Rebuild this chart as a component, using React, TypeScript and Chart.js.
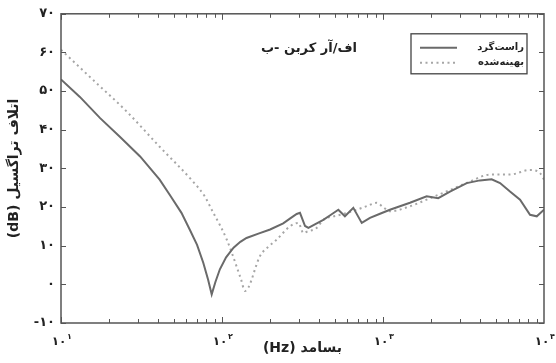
import React, { useEffect, useRef } from "react";
import { Chart, registerables } from "chart.js";

Chart.register(...registerables);

// ---- data ----
const solidFreq = [10, 13.1, 17.5, 23.2, 31, 41, 48, 56, 63, 70, 76.5, 82, 86.3, 91, 97, 106, 118, 130, 142, 170, 199, 240, 264, 291, 305, 328, 344, 380, 426, 475, 528, 580, 654, 738, 830, 950, 1104, 1471, 1867, 2203, 2606, 3311, 4000, 4730, 5333, 6150, 7100, 8190, 9020, 10000];
const solidLoss = [53, 48.5, 43, 38.2, 33.1, 27.1, 22.8, 18.5, 14.2, 10.2, 5.6, 1.2, -2.6, 0.6, 3.9, 7.0, 9.5, 11.0, 12.0, 13.2, 14.2, 15.8, 17.0, 18.2, 18.5, 15.1, 14.6, 15.6, 16.7, 18.0, 19.3, 17.6, 19.8, 15.9, 17.2, 18.2, 19.3, 21.1, 22.8, 22.3, 24.0, 26.2, 26.9, 27.2, 26.2, 24.0, 21.9, 18.0, 17.6, 19.3];
const optFreq = [10, 15.9, 25.6, 41, 66, 78, 88.3, 98, 107, 115, 123, 131, 139, 146, 153, 162, 172, 195, 219, 264, 298, 320, 336, 387, 426, 520, 600, 687, 800, 914, 1000, 1104, 1471, 1961, 2606, 3467, 4624, 6150, 8190, 9440, 10000];
const optLoss = [60.7, 52.8, 44.7, 35.6, 26.6, 22.8, 18.5, 15.0, 11.6, 8.2, 4.7, 1.4, -1.7, -0.8, 1.3, 4.5, 7.3, 9.8, 11.6, 15.0, 15.9, 13.3, 13.6, 14.6, 16.7, 17.8, 18.5, 19.3, 20.3, 21.1, 20.0, 18.9, 20.2, 22.3, 24.4, 26.6, 28.4, 28.4, 29.6, 28.8, 27.1];
const yTickValues = [-10, 0, 10, 20, 30, 40, 50, 60, 70];
const xDecades = [10, 100, 1000, 10000];
const xExponents = [1, 2, 3, 4];
const seriesNames = ["راست‌گرد", "بهینه‌شده"];
// title pieces in the left-to-right order seen in the reference ("ب- کربن آر/اف")
const titleTokens = ["ب-", " ", "کربن", " ", "آر", "/", "اف"];
const yTitle = "(dB) اتلاف تراگسیل";
const xTitle = "(Hz) بسامد";

const FA = "۰۱۲۳۴۵۶۷۸۹";
const toFa = (n: number) => (n < 0 ? "-" : "") + String(Math.abs(n)).replace(/\d/g, (d) => FA[+d]);

const FONT = "'DejaVu Sans', sans-serif";
const SOLID = "#6a6a6a";
const DOTTED = "#a6a6a6";
const FRAME = "#555555";

const decor = {
  id: "decor",
  afterDraw(chart: any) {
    const { ctx, chartArea: a } = chart;
    const x = chart.scales.x;
    const y = chart.scales.y;
    ctx.save();
    const line = (x1: number, y1: number, x2: number, y2: number) => {
      ctx.beginPath();
      ctx.moveTo(x1, y1);
      ctx.lineTo(x2, y2);
      ctx.stroke();
    };
    // frame
    ctx.strokeStyle = FRAME;
    ctx.lineWidth = 1.5;
    ctx.strokeRect(a.left, a.top, a.right - a.left, a.bottom - a.top);
    ctx.lineWidth = 1;
    // y ticks inward on both sides
    yTickValues.forEach((v) => {
      const py = Math.round(y.getPixelForValue(v)) + 0.5;
      line(a.left, py, a.left + 5, py);
      line(a.right - 5, py, a.right, py);
    });
    // x ticks (log minor) inward on bottom and top
    for (let i = 0; i < xDecades.length - 1; i++) {
      for (let m = 1; m <= 9; m++) {
        const f = xDecades[i] * m;
        const px = Math.round(x.getPixelForValue(f)) + 0.5;
        const len = m === 1 ? 6 : 4;
        line(px, a.bottom, px, a.bottom - len);
        line(px, a.top, px, a.top + len);
      }
    }
    // x tick labels 10^n with Persian digits
    ctx.fillStyle = "#222";
    xDecades.forEach((d, i) => {
      const px = x.getPixelForValue(d);
      ctx.font = `bold 12px ${FONT}`;
      ctx.textAlign = "center";
      ctx.textBaseline = "middle";
      ctx.fillText(toFa(10), px - 2, a.bottom + 19);
      ctx.font = `bold 8px ${FONT}`;
      ctx.textAlign = "left";
      ctx.fillText(toFa(xExponents[i]), px + 6, a.bottom + 14);
    });
    // inner title, pieces placed left to right
    ctx.font = `bold 13px ${FONT}`;
    ctx.textAlign = "left";
    ctx.textBaseline = "middle";
    ctx.fillStyle = "#222";
    ctx.direction = "ltr";
    const widths = titleTokens.map((t) => ctx.measureText(t).width);
    const total = widths.reduce((s, w) => s + w, 0);
    let tx = a.left + 248 - total / 2;
    titleTokens.forEach((t, i) => {
      if (t.trim()) ctx.fillText(t, tx, a.top + 35);
      tx += widths[i];
    });
    // legend box
    const lx = a.right - 133;
    const ly = a.top + 20;
    const lw = 116;
    const lh = 40;
    ctx.fillStyle = "#fff";
    ctx.fillRect(lx, ly, lw, lh);
    ctx.strokeStyle = "#444";
    ctx.lineWidth = 1.3;
    ctx.strokeRect(lx, ly, lw, lh);
    const ds = chart.data.datasets;
    ds.forEach((d: any, i: number) => {
      const yy = ly + 14 + i * 15;
      ctx.strokeStyle = d.borderColor;
      ctx.lineWidth = d.borderWidth;
      ctx.setLineDash(d.borderDash || []);
      line(lx + 9, yy, lx + 46, yy);
      ctx.setLineDash([]);
      ctx.fillStyle = "#222";
      ctx.font = `bold 10px ${FONT}`;
      ctx.textAlign = "right";
      ctx.textBaseline = "middle";
      ctx.fillText(d.label, lx + lw - 3, yy);
    });
    ctx.restore();
  },
};

export default function App() {
  const ref = useRef<HTMLCanvasElement | null>(null);
  useEffect(() => {
    if (!ref.current) return;
    const chart = new Chart(ref.current, {
      type: "line",
      data: {
        datasets: [
          {
            label: seriesNames[0],
            data: solidFreq.map((f, i) => ({ x: f, y: solidLoss[i] })),
            borderColor: SOLID,
            borderWidth: 2,
            pointRadius: 0,
            tension: 0,
          },
          {
            label: seriesNames[1],
            data: optFreq.map((f, i) => ({ x: f, y: optLoss[i] })),
            borderColor: DOTTED,
            borderWidth: 2,
            borderDash: [2, 3.5],
            pointRadius: 0,
            cubicInterpolationMode: "monotone",
          },
        ],
      },
      options: {
        animation: false,
        responsive: false,
        maintainAspectRatio: false,
        layout: { padding: { top: 13, right: 12, left: 0, bottom: 0 } },
        plugins: { legend: { display: false }, tooltip: { enabled: false }, title: { display: false } },
        scales: {
          x: {
            type: "logarithmic",
            min: 10,
            max: 10000,
            grid: { display: false, drawTicks: false },
            border: { display: false },
            ticks: { display: false },
            title: {
              display: true,
              text: xTitle,
              font: { family: FONT, size: 14, weight: "bold" },
              color: "#222",
              padding: { top: 0, bottom: 6 },
            },
            afterFit: (s: any) => {
              s.height = 40;
            },
          },
          y: {
            type: "linear",
            min: -10,
            max: 70,
            afterBuildTicks: (s: any) => {
              s.ticks = yTickValues.map((v) => ({ value: v }));
            },
            grid: { display: false, drawTicks: false },
            border: { display: false },
            ticks: {
              callback: (v: any) => toFa(Number(v)),
              font: { family: FONT, size: 13, weight: "bold" },
              color: "#222",
              padding: 6,
            },
            title: {
              display: true,
              text: yTitle,
              font: { family: FONT, size: 14, weight: "bold" },
              color: "#222",
              padding: { top: 6, bottom: 0 },
            },
            afterFit: (s: any) => {
              s.width = 61;
            },
          },
        },
      },
      plugins: [decor],
    } as any);
    return () => chart.destroy();
  }, []);
  return (
    <div style={{ position: "fixed", left: 0, top: 0, width: 556, height: 363, background: "#fff" }}>
      <canvas ref={ref} width={556} height={363} style={{ width: 556, height: 363 }} />
    </div>
  );
}
